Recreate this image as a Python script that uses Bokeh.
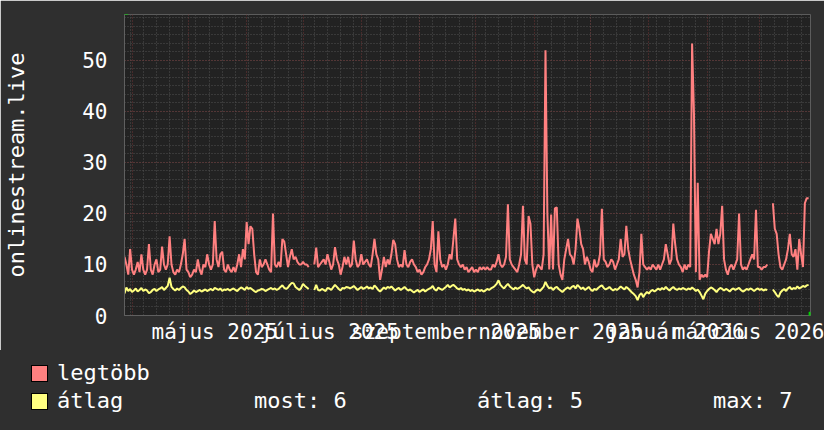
import pandas as pd
from bokeh.plotting import figure
from bokeh.models import (Range1d, FixedTicker, SingleIntervalTicker, Arrow, NormalHead,
                          ColumnDataSource, Div)
from bokeh.layouts import column
from bokeh.embed import file_html
from bokeh.resources import INLINE

NaN = float("nan")

START = "2025-03-28"
END = "2026-03-28"

# daily maximum ("legtöbb")
legtobb = [
    11.5, 10, 8, 13, 9, 8, 9, 10.5, 8.5, 12,
    9, 8, 9, 14, 9, 8, 10, 11, 8.5, 9,
    13.5, 10, 9, 10, 15.5, 10, 8.5, 8, 9, 8.5,
    10, 12, 15, 9, 8.5, 7.5, 8, 9, 8.5, 11,
    9, 8, 10, 9.5, 12, 10, 9, 10, 18.5, 11,
    9.5, 12, 12.5, 9, 8.5, 10, 9, 8.5, 9.5, 8.5,
    10, 12, 9.5, 13, 11, 18.3, 14, 17.5, 17, 12,
    8.5, 8, 11, 9.5, 10, 11, 10, 9, 8.5, 20,
    10, 9.5, 10.5, 9.5, 15, 14.5, 12, 9.5, 11.5, 13,
    11, 11.5, 10.5, 10, 10, 10.5, 10, 10, 9.5, NaN,
    NaN, 10, 13.3, 9.5, 10, 10.5, 11, 10, 12, 10.5,
    9, 10, 13.4, 11, 10, 8, 9.5, 11.5, 10, 11.5,
    9.5, 10, 14.7, 11, 9.5, 10, 12, 10, 10.5, 11,
    10, 9.5, 12, 15, 12, 11, 7, 9, 11.5, 9.5,
    11, 10, 12, 14.8, 14, 11, 9.5, 10, 9.5, 12.8,
    10, 9.5, 10.5, 11, 10, 9.5, 8.5, 9, 8, 8.5,
    9.5, 10, 11, 13, 18.5, 10, 8.5, 16.5, 11, 9.5,
    10, 9, 10, 12, 11, 15, 19, 11, 10, 9.5,
    10, 9, 9.5, 8.5, 9, 9.5, 8.5, 9, 8.5, 9.5,
    9, 9.5, 9, 9.5, 9, 9, 10, 9.5, 10.5, 12,
    10, 9.5, 10, 11.5, 21.8, 11, 10, 9.5, 9, 8.5,
    10, 12, 21.5, 11, 10, 19.5, 18, 10, 7.5, 9,
    10, 9.5, 9, 12, 52, 20, 9, 19.8, 9, 21,
    21.2, 10, 8, 7, 11, 13, 15, 12, 11.5, 10,
    13, 19, 17, 14, 13, 10, 11.5, 10.5, 9, 8.5,
    11, 9.5, 10, 12, 20.9, 11, 10.5, 9.5, 10, 11,
    10.5, 9, 10, 11, 15, 11.5, 12, 17.6, 13, 11,
    9.5, 8, 7, 5.5, 8.5, 16, 10, 9.5, 9, 9.5,
    9, 10, 9.5, 9, 10, 9, 10, 11, 14, 12,
    10, 11, 18, 14, 11, 10, 9.5, 8.5, 10, 9,
    10, 9.5, 53.3, 39.5, 8.5, 26, 7, 8, 7.5, 8,
    7.5, 12.5, 16, 15, 14, 17, 14, 16, 21.5, 11,
    9, 8, 9.5, 10, 9, 10, 11, 20, 10, 9,
    9.5, 9, 10, 11, 12, 11, 20.7, 9.5, 9.5, 9,
    9.5, 9.5, 10, NaN, NaN, 22, 17, 16, 12, 9.5,
    9, 10, 11, 13, 16, 12, 11.5, 13, 9, 15,
    12, 9.5, 22, 23, 23,
]

# daily average ("átlag")
atlag = [
    4.3, 5.5, 4.8, 5.2, 4.6, 4.9, 5.3, 4.7, 5.0, 5.4,
    4.8, 5.1, 4.9, 4.4, 4.6, 5.0, 5.2, 4.8, 5.1, 5.3,
    5.6, 5.0, 5.4, 5.8, 7.4, 5.6, 5.2, 4.9, 5.3, 5.0,
    5.4, 5.7, 5.5, 5.0, 4.7, 4.2, 4.5, 4.9, 4.6, 4.8,
    5.0, 4.7, 4.9, 5.1, 4.8, 5.0, 5.2, 4.9, 5.4, 5.2,
    5.0, 5.3, 4.8, 5.1, 5.0, 5.2, 4.9, 5.1, 5.3, 5.0,
    4.8, 5.2, 5.5, 5.3, 5.0, 5.6, 5.2, 5.4, 5.1, 4.8,
    4.6, 4.9, 5.0, 5.2, 5.1, 4.8, 5.0, 5.2, 5.4, 5.1,
    5.3, 5.0, 5.2, 5.6, 5.9, 5.4, 5.2, 5.5, 6.0, 6.4,
    6.3, 5.6, 5.3, 5.0, 5.4, 6.2, 5.8, 5.5, 5.2, NaN,
    NaN, 5.0, 6.0, 5.0, 4.9, 5.2, 5.0, 4.8, 5.4, 5.3,
    5.0, 5.5, 6.0, 5.6, 5.2, 4.9, 5.4, 5.3, 5.6, 5.5,
    5.3, 5.5, 5.8, 5.4, 5.0, 5.3, 5.6, 5.2, 5.4, 5.7,
    5.3, 5.5, 5.2, 5.9, 5.5, 5.0, 4.7, 5.1, 5.5, 5.2,
    5.6, 5.4, 5.7, 5.3, 4.9, 5.2, 5.4, 5.0, 5.3, 5.6,
    5.2, 4.9, 5.1, 4.8, 4.5, 4.8, 5.0, 4.6, 4.9, 5.1,
    4.7, 5.0, 5.2, 5.4, 5.8, 5.1, 4.9, 5.5, 5.2, 5.0,
    5.3, 5.6, 6.0, 5.5, 5.8, 6.0, 5.7, 5.3, 5.1, 5.4,
    5.0, 5.2, 4.9, 5.1, 4.8, 5.0, 4.7, 4.9, 5.1, 4.8,
    5.0, 4.7, 4.9, 5.2, 5.0, 5.3, 5.5, 5.8, 6.2, 6.9,
    6.0, 5.6, 5.3, 5.8, 6.2, 5.7, 5.4, 5.1, 5.5, 5.2,
    5.4, 5.7, 6.0, 5.6, 5.3, 5.5, 5.0, 4.7, 4.5, 4.9,
    5.1, 4.8, 5.2, 5.6, 6.6, 5.8, 5.3, 5.5, 5.0, 5.4,
    5.6, 5.2, 4.9, 4.6, 5.0, 5.3, 5.5, 5.2, 5.6, 5.8,
    5.3, 6.0, 5.6, 5.2, 5.5, 5.0, 5.3, 5.6, 5.1, 4.8,
    5.2, 5.0, 5.4, 5.7, 5.9, 5.4, 5.1, 5.3, 5.6, 5.2,
    4.9, 5.2, 5.0, 5.3, 5.7, 5.4, 5.1, 5.6, 5.3, 4.9,
    4.5, 4.2, 3.8, 3.0, 4.0, 4.4, 3.6, 4.2, 4.6, 4.3,
    4.8, 5.0, 4.7, 5.0, 5.3, 5.0, 5.4, 5.1, 5.6, 5.2,
    4.9, 5.3, 5.6, 5.2, 5.0, 5.3, 5.1, 5.4, 5.2, 5.0,
    5.3, 5.1, 5.5, 5.2, 4.8, 5.1, 4.6, 3.9, 3.2, 4.3,
    4.8, 5.2, 5.5, 5.3, 5.0, 4.6, 5.1, 5.4, 5.2, 4.9,
    5.2, 5.0, 4.7, 5.1, 5.3, 5.0, 5.2, 5.4, 5.0, 4.7,
    4.9, 5.2, 5.0, 5.3, 5.1, 4.8, 5.1, 5.3, 5.0, 5.2,
    4.9, 5.1, 5.0, NaN, NaN, 5.1, 4.6, 4.0, 3.6, 4.5,
    4.9, 5.2, 4.8, 5.3, 5.6, 5.1, 5.4, 5.2, 5.7, 5.3,
    5.5, 5.8, 5.6, 5.9, 6.0,
]

month_labels = ["május 2025", "július 2025", "szeptember 2025",
                "november 2025", "január 2026", "március 2026"]
label_dates = ["2025-05-15", "2025-07-15", "2025-09-15",
               "2025-11-15", "2026-01-15", "2026-03-15"]
y_title = "onlinestream.live"
legend_names = ["legtöbb", "átlag"]
stats = ["most: 6", "átlag: 5", "max: 7"]
Y_MAX = 59

BG = "#2f2f2f"
FRAME = "#222222"
RED = "#ff8080"
YEL = "#ffff80"
FONT = "DejaVu Sans Mono"
FS = "21px"


def ms(t):
    return pd.Timestamp(t).value // 10**6


dates = pd.date_range(START, periods=len(legtobb), freq="D")
src = ColumnDataSource(dict(date=dates, legtobb=legtobb, atlag=atlag[:len(legtobb)]))

x0, x1 = ms(START), ms(END)
W, PH, LH = 824, 350, 80
p = figure(width=W, height=PH, x_axis_type="datetime",
           x_range=Range1d(x0, x1), y_range=Range1d(0, Y_MAX),
           toolbar_location=None, output_backend="svg",
           background_fill_color=FRAME, border_fill_color=BG,
           outline_line_color=None,
           min_border_left=124, min_border_right=14, min_border_top=14, min_border_bottom=35)

# grids
month_starts = [ms(t) for t in pd.date_range("2025-04-01", END, freq="MS")]
mondays = [ms(t) for t in pd.date_range(START, END, freq="W-MON")]
p.xgrid.ticker = FixedTicker(ticks=month_starts, minor_ticks=mondays)
p.xgrid.grid_line_color = "#6e3434"
p.xgrid.grid_line_dash = "1 2"
p.xgrid.minor_grid_line_color = "#505050"
p.xgrid.minor_grid_line_dash = "1 2"

p.yaxis.ticker = SingleIntervalTicker(interval=10, num_minor_ticks=6)
p.ygrid.grid_line_color = "#6e3434"
p.ygrid.grid_line_dash = "1 2"
p.ygrid.minor_grid_line_color = "#505050"
p.ygrid.minor_grid_line_dash = "1 2"

# axes
p.xaxis.ticker = FixedTicker(ticks=[ms(d) for d in label_dates], minor_ticks=[])
p.xaxis.major_label_overrides = {ms(d): lab for d, lab in zip(label_dates, month_labels)}
for ax in (p.xaxis, p.yaxis):
    ax.major_tick_in = 0
    ax.major_tick_out = 0
    ax.minor_tick_in = 0
    ax.minor_tick_out = 0
    ax.axis_line_color = "#606060"
    ax.major_label_text_color = "white"
    ax.major_label_text_font = FONT
    ax.major_label_text_font_size = FS
p.xaxis.major_label_standoff = 4
p.yaxis.major_label_standoff = 17
p.yaxis.axis_label = y_title
p.yaxis.axis_label_text_font = FONT
p.yaxis.axis_label_text_font_size = "22px"
p.yaxis.axis_label_text_font_style = "normal"
p.yaxis.axis_label_text_color = "white"
p.yaxis.axis_label_standoff = 50

p.line(x="date", y="legtobb", source=src, line_color=RED, line_width=2)
p.line(x="date", y="atlag", source=src, line_color=YEL, line_width=2)

# axis arrows
p.add_layout(Arrow(end=NormalHead(size=7, fill_color="#00dd00", line_color="#00dd00"),
                   x_start=x0, y_start=Y_MAX - 1, x_end=x0, y_end=Y_MAX + 1.4, line_alpha=0))
day_ms = 86400000
p.add_layout(Arrow(end=NormalHead(size=7, fill_color="#00dd00", line_color="#00dd00"),
                   x_start=x1 - 2 * day_ms, y_start=0, x_end=x1 + 3 * day_ms, y_end=0, line_alpha=0))

# legend area (HTML below the plot)
swatch_tops = [15, 43]
text_tops = [12, 40]
parts = []
for col, st in zip((RED, YEL), swatch_tops):
    parts.append(f'<span style="position:absolute;left:31px;top:{st}px;width:17px;height:17px;'
                 f'box-sizing:border-box;border:1px solid #000;background:{col};"></span>')
for name, tt in zip(legend_names, text_tops):
    parts.append(f'<span style="position:absolute;left:57px;top:{tt}px;line-height:22px;">{name}</span>')
for s, lx in zip(stats, (254, 477, 713)):
    parts.append(f'<span style="position:absolute;left:{lx}px;top:{text_tops[1]}px;line-height:22px;">{s}</span>')
html = (f'<div style="position:relative;width:{W}px;height:{LH}px;background:{BG};'
        f'font-family:\'{FONT}\';font-size:22px;color:#ffffff;white-space:pre;">'
        + "".join(parts) + '</div>')
legend = Div(text=html, width=W, height=LH,
             styles={"background-color": BG, "margin": "0", "padding": "0"})

layout = column(p, legend, spacing=0)
open("out.html", "w").write(file_html(layout, INLINE))
